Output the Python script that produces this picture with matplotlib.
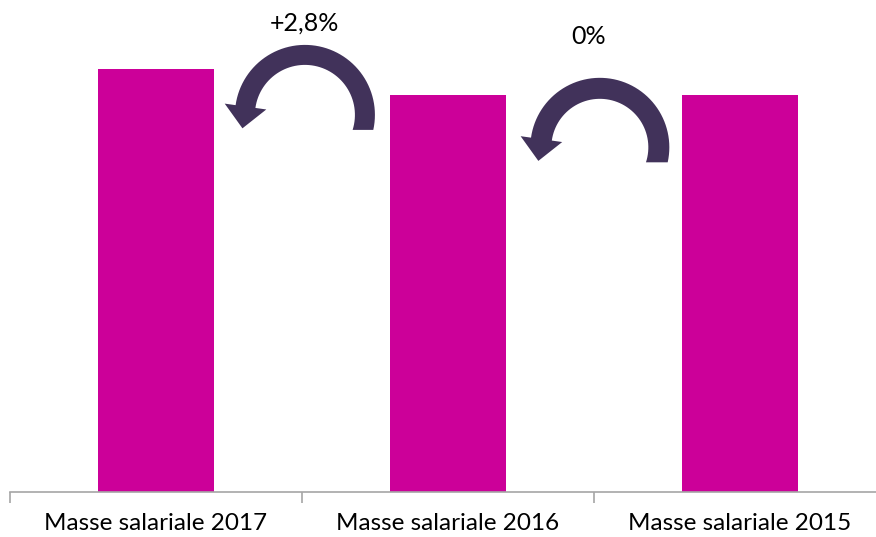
import numpy as np
import matplotlib
matplotlib.use("Agg")
import matplotlib.pyplot as plt
from matplotlib.patches import Polygon
import matplotlib.transforms as mtransforms

# data
categories = ["Masse salariale 2017", "Masse salariale 2016", "Masse salariale 2015"]
values = [102.8, 100.0, 99.9]
changes = ["+2,8%", "0%"]
# arrow anchors (x between bars, y in data units)
arrow_x = [0.51, 1.52]
arrow_y = [97.8, 94.3]

bar_color = "#CC0099"
arrow_color = "#41325A"

plt.rcParams['font.family'] = ['Lato', 'DejaVu Sans']

fig = plt.figure(figsize=(8.76, 5.37), dpi=100)
ax = fig.add_axes([10/876, 45/537, 1.0, 492/537])

x = np.arange(len(categories))
ax.bar(x, values, width=0.40, color=bar_color)
ax.set_xlim(-0.5, 2.5)
ax.set_ylim(57.1, 110.2)

for s in ["left", "top", "right"]:
    ax.spines[s].set_visible(False)
ax.spines["bottom"].set_color("#a6a6a6")
ax.spines["bottom"].set_linewidth(1.2)
ax.set_yticks([])
ax.set_xticks([-0.5, 0.5, 1.5, 2.5])
ax.set_xticklabels([])
ax.tick_params(axis="x", which="major", length=8, width=1.2, color="#a6a6a6", direction="out")
ax.set_xticks(x, minor=True)
ax.set_xticklabels(categories, minor=True, fontsize=17.5)
ax.tick_params(axis="x", which="minor", length=0, pad=15)


def curved_arrow(cx, cy, R=0.60, w=0.20, cut=0.15, end_deg=172, hw=0.21, hl=0.22):
    # shape in inches around the anchor point (cx, cy) in data coords
    ro, ri = R + w/2, R - w/2
    a0o = np.arcsin(-cut/ro)
    a0i = np.arcsin(-cut/ri)
    a1 = np.radians(end_deg)
    to = np.linspace(a0o, a1, 60)
    ti = np.linspace(a1, a0i, 60)
    outer = np.c_[ro*np.cos(to), ro*np.sin(to)]
    inner = np.c_[ri*np.cos(ti), ri*np.sin(ti)]
    u = np.array([np.cos(a1), np.sin(a1)])
    tang = np.array([-np.sin(a1), np.cos(a1)])
    head = np.array([(R + hw)*u, R*u + hl*tang, (R - hw)*u])
    pts = np.vstack([outer, head, inner])
    trans = fig.dpi_scale_trans + mtransforms.ScaledTranslation(cx, cy, ax.transData)
    ax.add_patch(Polygon(pts, closed=True, facecolor=arrow_color, edgecolor="none",
                         transform=trans, clip_on=False))


curved_arrow(arrow_x[0], arrow_y[0])
curved_arrow(arrow_x[1], arrow_y[1], R=0.59, w=0.21)

ax.annotate(changes[0], (arrow_x[0], arrow_y[0]), xytext=(0, 66), textcoords="offset points",
            ha="center", va="center", fontsize=18)
ax.annotate(changes[1], (arrow_x[1], arrow_y[1]), xytext=(-8, 80), textcoords="offset points",
            ha="center", va="center", fontsize=18)

fig.savefig("out.png", dpi=100)
